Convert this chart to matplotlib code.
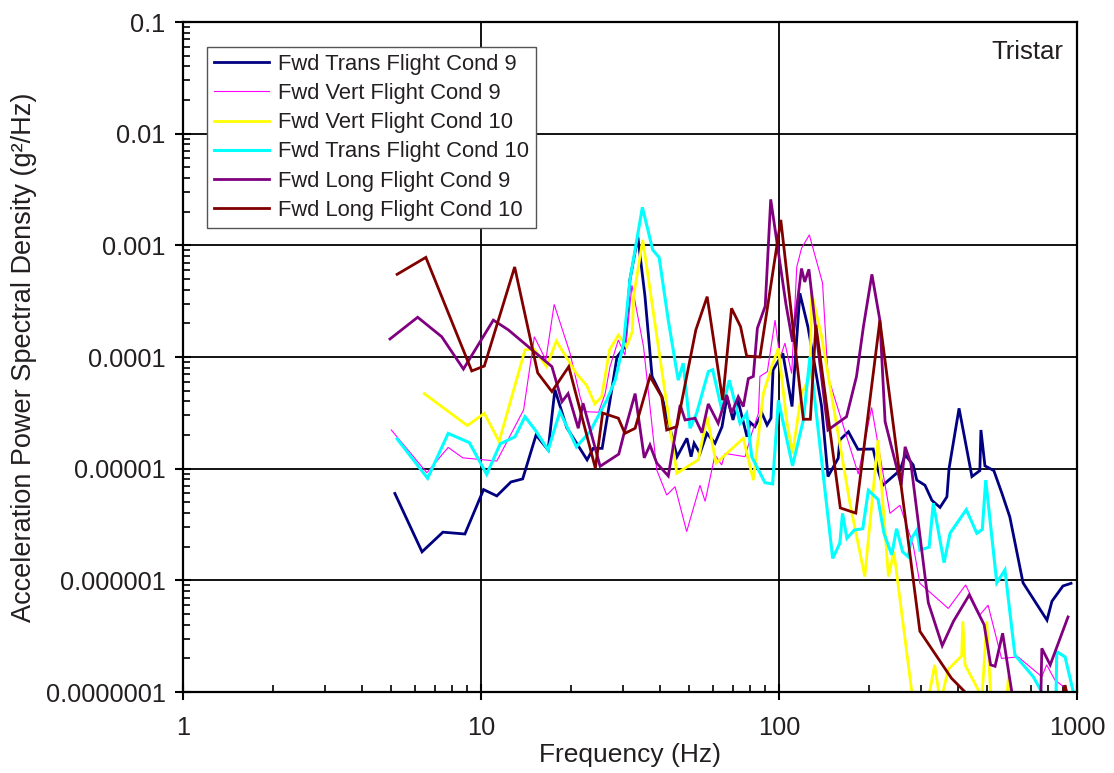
import matplotlib
matplotlib.use("Agg")
import matplotlib.pyplot as plt
from matplotlib.ticker import FixedLocator, FixedFormatter, LogLocator, NullFormatter

plt.rcParams['font.family'] = ['Liberation Sans', 'DejaVu Sans']

# ---------------- data ----------------
labels = ["Fwd Trans Flight Cond 9", "Fwd Vert Flight Cond 9", "Fwd Vert Flight Cond 10",
          "Fwd Trans Flight Cond 10", "Fwd Long Flight Cond 9", "Fwd Long Flight Cond 10"]

navy_f = [5.14, 6.34, 7.45, 8.83, 10.2, 11.3, 12.6, 13.8, 15.3, 16.8, 17.7, 19.4, 22.7, 23.8, 25.5,
          27.1, 28.6, 30.4, 31.6, 33.6, 35.5, 37.5, 40.5, 45.5, 49.1, 50.7, 51.9, 54.3, 57.3, 61,
          64.4, 66.9, 70.1, 72.8, 78.1, 80, 83, 87.7, 91.2, 94, 95.5, 103, 110.6, 117.5, 125,
          132, 139, 146, 158, 160, 171, 184, 207, 215, 223, 255, 265, 282, 290, 309,
          326, 347, 366, 372, 402, 444, 472, 476, 491, 526, 560, 595, 659, 793, 824, 897, 955]
navy_v = [6.0e-6, 1.8e-6, 2.7e-6, 2.6e-6, 6.5e-6, 5.7e-6, 7.6e-6, 8.1e-6, 2.0e-5, 1.47e-5,
          5.1e-5, 2.33e-5, 1.2e-5, 1.52e-5, 1.52e-5, 4.1e-5, 1.0e-4, 1.24e-4, 4.9e-4, 1.19e-3,
          3.5e-4, 6.7e-5, 4.4e-5, 1.28e-5, 1.87e-5, 1.28e-5, 1.69e-5, 1.37e-5, 2.07e-5, 1.69e-5,
          2.38e-5, 4.4e-5, 2.73e-5, 4.1e-5, 1.93e-5, 2.6e-5, 2.38e-5, 3.13e-5, 2.46e-5, 2.83e-5,
          7.65e-5, 1.08e-4, 3.6e-5, 3.72e-4, 1.87e-4, 8.2e-5, 3.6e-5, 8.5e-6, 1.24e-5, 1.81e-5,
          2.14e-5, 1.49e-5, 1.5e-5, 9.7e-6, 7.1e-6, 9.7e-6, 1.33e-5, 1.08e-5, 7.9e-6, 7.1e-6,
          5.2e-6, 4.5e-6, 5.6e-6, 1.0e-5, 3.47e-5, 8.5e-6, 9.6e-6, 2.22e-5, 1.06e-5, 9.6e-6,
          6.0e-6, 3.7e-6, 9.5e-7, 4.4e-7, 6.5e-7, 8.9e-7, 9.4e-7]

magenta_f = [5.0, 6.58, 7.76, 8.69, 11.3, 13.9, 15.1, 16.5, 17.6, 19.9, 21.5, 22.3, 24.8, 26.1, 27.1,
             28.9, 30.4, 32.1, 35.1, 38.9, 42.0, 44.8, 49.0, 54.3, 56.5, 61, 64.2, 65.9, 76.9, 81,
             85.3, 86.3, 91.4, 97, 100.7, 104.7, 110.3, 114.7, 119, 126.4, 140, 146, 184.5, 204.6,
             235.7, 254.5, 282, 297, 370, 423, 472, 503, 558, 635, 762, 791, 843, 900, 960]
magenta_v = [2.22e-5, 9.2e-6, 1.55e-5, 1.25e-5, 1.17e-5, 3.36e-5, 1.52e-4, 9.4e-5, 2.96e-4, 1.08e-4,
             4.4e-5, 3.24e-5, 3.2e-5, 4.7e-5, 8.2e-5, 1.42e-4, 1.04e-4, 4.4e-4, 1.24e-4, 9.7e-6,
             5.8e-6, 6.9e-6, 2.73e-6, 7.1e-6, 5.1e-6, 1.33e-5, 1.08e-5, 1.37e-5, 1.28e-5, 2.07e-5,
             3.13e-5, 6.7e-5, 7.4e-5, 2.14e-4, 9.7e-5, 1.33e-4, 7.1e-5, 6.4e-4, 9.4e-4, 1.24e-3,
             4.6e-4, 6.7e-5, 8.95e-6, 3.53e-5, 3.98e-6, 4.7e-6, 2.07e-6, 9.4e-7, 5.6e-7, 9.1e-7,
             4.9e-7, 6.0e-7, 2.0e-7, 2.06e-7, 1.37e-7, 1.75e-7, 1.28e-7, 1.12e-7, 9e-8]

yellow_f = [6.45, 9.0, 10.26, 11.5, 14.05, 15.1, 16.6, 17.9, 20.9, 22.6, 24.1, 25.4, 27.0, 28.9, 30.8,
            32.2, 32.5, 34.9, 45.4, 53.6, 57.4, 61.5, 75.9, 82, 88.6, 94.5, 99.5, 106, 111, 119,
            127, 128.8, 139, 173, 194, 215, 233, 243, 279, 300, 333, 348, 370, 410, 414,
            421, 480, 498, 520, 575, 589, 610]
yellow_v = [4.7e-5, 2.43e-5, 3.13e-5, 1.75e-5, 1.16e-4, 1.17e-4, 8.2e-5, 1.39e-4, 7.1e-5, 5.6e-5,
            3.8e-5, 4.4e-5, 1.16e-4, 1.57e-4, 1.24e-4, 1.69e-4, 3.47e-4, 1.12e-3, 9.1e-6, 1.2e-5,
            2.92e-5, 1.12e-5, 1.87e-5, 7.9e-6, 4.7e-5, 8.2e-5, 1.2e-4, 2.73e-5, 1.37e-5, 4.7e-5,
            6.7e-5, 3.72e-4, 1.52e-4, 4.9e-6, 1.08e-6, 1.81e-5, 1.08e-6, 1.8e-6, 1.0e-7, 4e-8,
            1.75e-7, 8e-8, 1.6e-7, 2.1e-7, 4.3e-7, 1.75e-7, 9e-8, 4.3e-7, 5e-8, 6e-8,
            1.4e-7, 5e-8]

cyan_f = [5.23, 6.62, 7.76, 9.14, 10.45, 11.6, 13.0, 14.05, 15.2, 16.8, 18.4, 20.9, 23.2, 26.4, 28.2,
          30.1, 31.6, 34.8, 37.7, 39.6, 42.5, 45.9, 47.7, 50.3, 52.9, 57.9, 59.9, 64.3, 68.1, 74,
          77.9, 81, 89.7, 95.2, 99.5, 111, 120.7, 127, 151.4, 160, 163.4, 169, 179, 191, 199.5,
          215, 225, 239, 248, 260, 271, 279, 290, 297, 319, 329.5, 358, 375, 425, 461,
          481, 494, 538, 573, 619, 713, 762, 800, 845, 855, 912, 972, 990]
cyan_v = [1.85e-5, 8.2e-6, 2.07e-5, 1.71e-5, 8.9e-6, 1.67e-5, 1.93e-5, 2.92e-5, 2.22e-5, 1.47e-5,
          3.24e-5, 1.57e-5, 2.14e-5, 4.1e-5, 6.2e-5, 1.33e-4, 4.9e-4, 2.19e-3, 9.1e-4, 7.8e-4,
          2.14e-4, 6.2e-5, 8.8e-5, 2.3e-5, 3.13e-5, 7.4e-5, 7.7e-5, 3.36e-5, 6.2e-5, 2.55e-5,
          3.13e-5, 1.28e-5, 7.5e-6, 7.3e-6, 4.1e-5, 1.06e-5, 2.73e-5, 1.0e-4, 1.57e-6, 2.15e-6,
          3.98e-6, 2.38e-6, 2.82e-6, 2.9e-6, 6.4e-6, 5.3e-6, 2.64e-6, 1.69e-6, 2.9e-6, 1.8e-6,
          1.63e-6, 2.4e-6, 2.82e-6, 1.87e-6, 1.98e-6, 4.9e-6, 1.44e-6, 2.64e-6, 4.3e-6, 2.64e-6,
          2.85e-6, 7.9e-6, 9.5e-7, 1.24e-6, 2.14e-7, 1.37e-7, 1.0e-7, 5e-8, 3e-8, 2.3e-7,
          2.06e-7, 1.0e-7, 7e-8]

purple_f = [4.95, 6.13, 7.38, 8.73, 11.0, 12.35, 17.3, 18.7, 19.6, 21.2, 22.0, 25.1, 29.0, 30.2, 32.9,
            35.3, 36.9, 38.9, 42.5, 46.6, 48.4, 52.3, 55.1, 57.9, 62.5, 66.7, 69.3, 73, 75.9, 78.9,
            82, 84.6, 89.9, 93.8, 105.5, 111, 119, 122, 126, 133.7, 146, 168.5, 182, 192, 205,
            218, 227, 257, 265, 277, 317, 353, 385, 435, 488, 513, 531, 563, 593, 630,
            750, 762, 813, 933]
purple_v = [1.45e-4, 2.27e-4, 1.52e-4, 7.8e-5, 2.14e-4, 1.75e-4, 8.2e-5, 3.98e-5, 4.7e-5, 2.3e-5,
            3.85e-5, 1.05e-5, 1.35e-5, 2.07e-5, 4.7e-5, 1.25e-5, 1.63e-5, 1.12e-5, 8.6e-6, 3.72e-5,
            2.73e-5, 2.83e-5, 2.1e-5, 3.8e-5, 2.55e-5, 4.57e-5, 3.13e-5, 4.4e-5, 3.6e-5, 6.4e-5,
            6.7e-5, 1.81e-4, 2.86e-4, 2.58e-3, 2.98e-4, 1.37e-4, 6.2e-4, 4.7e-4, 6.1e-4, 1.52e-4,
            2.22e-5, 2.92e-5, 6.7e-5, 1.87e-4, 5.5e-4, 2.14e-4, 2.64e-5, 7.1e-6, 1.57e-5, 1.12e-5,
            6.3e-7, 2.6e-7, 4.3e-7, 7.4e-7, 4.0e-7, 1.75e-7, 1.7e-7, 3.36e-7, 1.37e-7, 5e-8,
            3e-8, 2.46e-7, 1.75e-7, 4.7e-7]

darkred_f = [5.23, 6.53, 9.31, 10.26, 12.97, 15.5, 17.3, 19.7, 24.2, 25.6, 28.9, 30.4, 32.9, 36.9, 40.4,
             42.0, 45.4, 52.6, 57.4, 64.7, 69.3, 74.3, 77.9, 86.3, 101.4, 120.7, 127.4, 133, 160.6, 181,
             218, 297, 379, 421, 500, 700, 870, 912, 950]
darkred_v = [5.5e-4, 7.8e-4, 7.5e-5, 8.3e-5, 6.4e-4, 7.2e-5, 4.9e-5, 8.2e-5, 1.01e-5, 3.15e-5,
             2.83e-5, 2.07e-5, 2.3e-5, 6.7e-5, 4.4e-5, 2.22e-5, 2.38e-5, 1.75e-4, 3.47e-4, 4.1e-5,
             2.73e-4, 1.87e-4, 1.02e-4, 1.0e-4, 1.69e-3, 2.77e-5, 2.77e-5, 1.94e-4, 4.45e-6, 4.0e-6,
             2.12e-4, 3.5e-7, 1.33e-7, 1.0e-7, 6e-8, 5e-8, 7e-8, 1.15e-7, 7e-8]

x_ticks = [1, 10, 100, 1000]
x_ticklabels = ["1", "10", "100", "1000"]
y_ticks = [1e-7, 1e-6, 1e-5, 1e-4, 1e-3, 1e-2, 1e-1]
y_ticklabels = ["0.0000001", "0.000001", "0.00001", "0.0001", "0.001", "0.01", "0.1"]

# ---------------- styling ----------------
series = [
    (navy_f, navy_v, "#000080", 2.0),
    (magenta_f, magenta_v, "#FF00FF", 0.8),
    (yellow_f, yellow_v, "#FFFF00", 2.0),
    (cyan_f, cyan_v, "#00FFFF", 2.2),
    (purple_f, purple_v, "#800080", 2.0),
    (darkred_f, darkred_v, "#800000", 2.0),
]
text_color = "#231F20"

fig = plt.figure(figsize=(11.14, 7.73), dpi=100)
ax = fig.add_axes([183 / 1114, 1 - 692 / 773, (1077 - 183) / 1114, (692 - 22) / 773])

for (f, v, c, lw), lab in zip(series, labels):
    ax.plot(f, v, color=c, lw=lw, label=lab, solid_joinstyle='miter')

ax.set_xscale('log')
ax.set_yscale('log')
ax.set_xlim(1, 1000)
ax.set_ylim(1e-7, 0.1)

ax.xaxis.set_major_locator(FixedLocator(x_ticks))
ax.xaxis.set_major_formatter(FixedFormatter(x_ticklabels))
ax.yaxis.set_major_locator(FixedLocator(y_ticks))
ax.yaxis.set_major_formatter(FixedFormatter(y_ticklabels))
ax.xaxis.set_minor_locator(LogLocator(base=10, subs=range(2, 10), numticks=20))
ax.yaxis.set_minor_locator(LogLocator(base=10, subs=range(2, 10), numticks=20))
ax.xaxis.set_minor_formatter(NullFormatter())
ax.yaxis.set_minor_formatter(NullFormatter())

ax.tick_params(which='major', direction='inout', length=11, width=1.5,
               labelsize=18.3, labelcolor=text_color, pad=7)
ax.tick_params(which='minor', direction='in', length=5, width=1.2)
ax.tick_params(axis='x', which='major', pad=12)

ax.grid(True, which='major', color='black', lw=1.3)
ax.set_axisbelow(True)
for s in ax.spines.values():
    s.set_linewidth(1.6)
    s.set_color('black')

ax.set_xlabel("Frequency (Hz)", fontsize=19, color=text_color, labelpad=2)
ax.set_ylabel("Acceleration Power Spectral Density (g²/Hz)", fontsize=19.5, color=text_color, labelpad=6)

leg = ax.legend(loc='upper left', bbox_to_anchor=((207 - 183) / 894, (692 - 47) / 670),
                borderaxespad=0, fontsize=15.8, frameon=True, fancybox=False,
                framealpha=1, edgecolor='#555555', handlelength=2.5, handletextpad=0.4,
                labelspacing=0.37, borderpad=0.32)
leg.get_frame().set_linewidth(1.0)
for t in leg.get_texts():
    t.set_color(text_color)

ax.text((1063 - 183) / 894, (692 - 52) / 670, "Tristar", transform=ax.transAxes,
        ha='right', va='center', fontsize=18.5, color=text_color)

fig.savefig("out.png", dpi=100)
